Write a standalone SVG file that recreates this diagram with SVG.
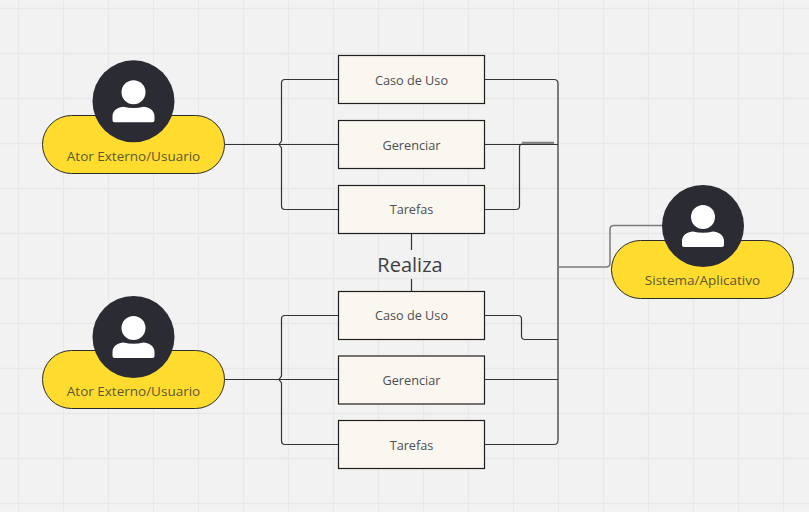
<svg xmlns="http://www.w3.org/2000/svg" width="809" height="512" viewBox="0 0 809 512">
<style>
.grid{stroke:#e8e8e8;stroke-width:1.3;fill:none}
.c{fill:none;stroke:#333;stroke-width:1.2}
.g{fill:none;stroke:#7c7c7c;stroke-width:1.5}
.box{fill:#faf6f0;stroke:#1f1f1f;stroke-width:1.2}
.pill{fill:#ffdc2e;stroke:#2b2b2b;stroke-width:1}
.disc{fill:#2b2c33}
.ic{fill:#fff}
text{font-family:"Open Sans","Noto Sans",sans-serif;text-anchor:middle;fill:#4f4f4f}
.t{font-size:12.7px}
.p{font-size:13.5px;fill:#5c5835}
</style>
<defs>
<g id="person">
<circle class="disc" cx="0" cy="0" r="41"/>
<circle class="ic" cx="0" cy="-9" r="12"/>
<path class="ic" d="M-21 19V15C-21 9 -15 5.500 -10 5.500Q0 8 10 5.500C15 5.500 21 9 21 15V19Q21 21 19 21H-19Q-21 21 -21 19Z"/>
</g>
</defs>
<rect width="809" height="512" fill="#f2f2f2"/>
<path class="grid" d="M18.500 0V512M63.500 0V512M108.500 0V512M153.500 0V512M198.500 0V512M243.500 0V512M288.500 0V512M333.500 0V512M378.500 0V512M423.500 0V512M468.500 0V512M513.500 0V512M558.500 0V512M603.500 0V512M648.500 0V512M693.500 0V512M738.500 0V512M783.500 0V512M0 8.500H809M0 53.500H809M0 98.500H809M0 143.500H809M0 188.500H809M0 233.500H809M0 278.500H809M0 323.500H809M0 368.500H809M0 413.500H809M0 458.500H809M0 503.500H809"/>
<g id="connectors">
<path class="c" d="M225 144.500H338M338 79.500H285Q281.500 79.500 281.500 83V141L279 144.500L281.500 148V205.500Q281.500 209.500 285 209.500H338"/>
<path class="c" d="M225 379.500H338M338 315.500H285Q281.500 315.500 281.500 319V376L279 379.500L281.500 383V440.500Q281.500 444.500 285 444.500H338"/>
<path class="c" d="M485 79.500H554Q558 79.500 558 83.500V440Q558 444.500 554 444.500H485"/>
<path class="g" d="M558 90V435"/>
<path class="c" d="M485 144.500H558M485 379.500H558"/>
<path class="c" d="M485 209.500H516Q519.500 209.500 519.500 206V147Q519.500 144 522.500 144H554"/>
<path class="g" d="M522 142.500H554"/>
<path class="c" d="M485 315.500H518Q521.500 315.500 521.500 319V336Q521.500 339.500 525 339.500H558"/>
<path class="g" d="M558 267H606Q610 267 610 263V229Q610 225.500 614 225.500H665"/>
<path class="c" d="M411.500 233V250M411.500 279V291"/>
</g>
<g id="actor-1">
<rect class="pill" x="42.500" y="115.500" width="182" height="58" rx="29"/>
<use href="#person" x="133.500" y="101.300"/>
<text class="p" x="133.500" y="161">Ator Externo/Usuario</text>
</g>
<g id="actor-2">
<rect class="pill" x="42.500" y="350.500" width="182" height="58" rx="29"/>
<use href="#person" x="133.500" y="337"/>
<text class="p" x="133.500" y="396">Ator Externo/Usuario</text>
</g>
<g id="system">
<rect class="pill" x="611.500" y="240.500" width="182" height="58" rx="29"/>
<use href="#person" x="703" y="226"/>
<text class="p" x="702.500" y="284.500">Sistema/Aplicativo</text>
</g>
<g id="uc-1"><rect class="box" x="338.500" y="55.500" width="146" height="48"/><text class="t" x="411.500" y="84.500">Caso de Uso</text></g>
<g id="manage-1"><rect class="box" x="338.500" y="120.500" width="146" height="48"/><text class="t" x="411.500" y="149.500">Gerenciar</text></g>
<g id="tasks-1"><rect class="box" x="338.500" y="185.500" width="146" height="48"/><text class="t" x="411.500" y="214">Tarefas</text></g>
<g id="uc-2"><rect class="box" x="338.500" y="291.500" width="146" height="48"/><text class="t" x="411.500" y="320">Caso de Uso</text></g>
<g id="manage-2"><rect class="box" x="338.500" y="356" width="146" height="48"/><text class="t" x="411.500" y="385">Gerenciar</text></g>
<g id="tasks-2"><rect class="box" x="338.500" y="420.500" width="146" height="48"/><text class="t" x="411.500" y="449.500">Tarefas</text></g>
<text id="realiza" x="410" y="271.500" style="font-size:20px;fill:#3f3f3f">Realiza</text>
</svg>
